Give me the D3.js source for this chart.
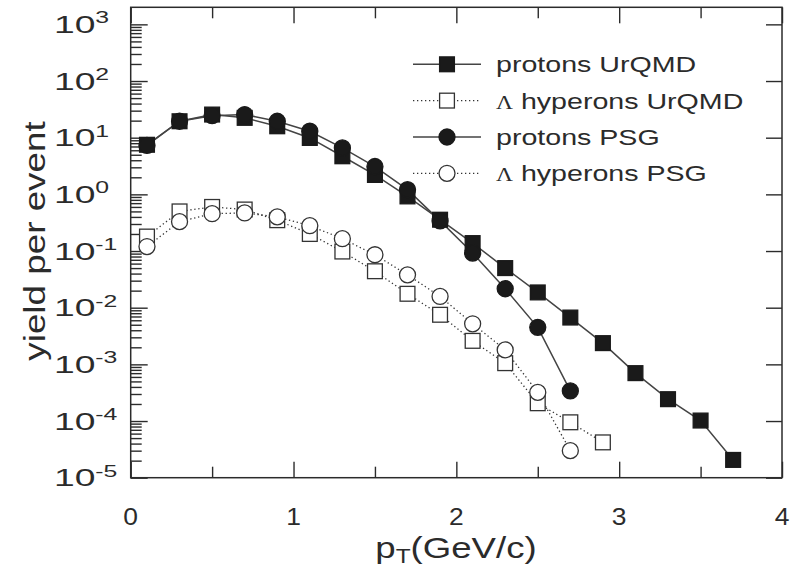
<!DOCTYPE html>
<html><head><meta charset="utf-8">
<script src="https://cdn.jsdelivr.net/npm/d3@7"></script>
<style>body{margin:0;background:#fff}svg{display:block}</style>
</head><body>
<svg id="c" width="804" height="571"></svg>
<script>
// ---- data (pT in GeV/c, yield per event) ----
const ptProtonsUrQMD = [0.1,0.3,0.5,0.7,0.9,1.1,1.3,1.5,1.7,1.9,2.1,2.3,2.5,2.7,2.9,3.1,3.3,3.5,3.7];
const protonsUrQMD   = [7.5,19.5,25.6,22.4,15.9,9.9,4.7,2.2,0.92,0.357,0.138,0.050,0.0186,0.0067,0.00237,0.00070,0.000243,0.000102,0.0000206];
const ptLambdaUrQMD  = [0.1,0.3,0.5,0.7,0.9,1.1,1.3,1.5,1.7,1.9,2.1,2.3,2.5,2.7,2.9];
const lambdaUrQMD    = [0.18,0.50,0.60,0.54,0.35,0.20,0.098,0.044,0.0176,0.0075,0.0026,0.00105,0.000206,0.000095,0.000042];
const ptProtonsPSG   = [0.1,0.3,0.5,0.7,0.9,1.1,1.3,1.5,1.7,1.9,2.1,2.3,2.5,2.7];
const protonsPSG     = [7.3,19.5,24.5,25.6,19.5,13,6.6,3.1,1.21,0.34,0.092,0.0216,0.0045,0.00034];
const ptLambdaPSG    = [0.1,0.3,0.5,0.7,0.9,1.1,1.3,1.5,1.7,1.9,2.1,2.3,2.5,2.7];
const lambdaPSG      = [0.12,0.33,0.456,0.47,0.40,0.28,0.165,0.086,0.038,0.0158,0.0052,0.0018,0.00032,0.000030];

const xMajorTicks = [0,1,2,3,4];
const xMinorTicks = [0.5,1.5,2.5,3.5];
const yDecadeExps = [-5,-4,-3,-2,-1,0,1,2,3];
const legendLabels = [["","protons UrQMD"],["Λ"," hyperons UrQMD"],["","protons PSG"],["Λ"," hyperons PSG"]];
const xTitle = ["p","T","(GeV/c)"];
const yTitle = "yield per event";

// ---- layout ----
const L = 130.7, R = 782, T = 7.3, B = 477.7;
const svg = d3.select("#c");
const x = d3.scaleLinear().domain([0,4]).range([L,R]);
const y = d3.scaleLog().domain([1e-5,2000]).range([B,T]);
const ink = "#2b2b2b";
const FONT = "'Liberation Sans', Arial, Helvetica, sans-serif";

// ---- axes ----
function styleAxis(g){ g.select(".domain").remove(); g.selectAll(".tick line").attr("stroke",ink).attr("stroke-width",1.4); g.selectAll(".tick text").remove(); }
svg.append("g").attr("transform",`translate(0,${B})`).call(d3.axisBottom(x).tickValues(xMajorTicks).tickSize(-16)).call(styleAxis);
svg.append("g").attr("transform",`translate(0,${B})`).call(d3.axisBottom(x).tickValues(xMinorTicks).tickSize(-11)).call(styleAxis);
svg.append("g").attr("transform",`translate(0,${T})`).call(d3.axisTop(x).tickValues(xMajorTicks).tickSize(-16)).call(styleAxis);
svg.append("g").attr("transform",`translate(0,${T})`).call(d3.axisTop(x).tickValues(xMinorTicks).tickSize(-11)).call(styleAxis);
const yMajor = yDecadeExps.map(e => Math.pow(10,e));
const yMinor = [];
yDecadeExps.slice(0,-1).forEach(e => { for (let m=2;m<=9;m++) yMinor.push(m*Math.pow(10,e)); });
svg.append("g").attr("transform",`translate(${L},0)`).call(d3.axisLeft(y).tickValues(yMajor).tickSize(-17)).call(styleAxis);
svg.append("g").attr("transform",`translate(${L},0)`).call(d3.axisLeft(y).tickValues(yMinor).tickSize(-11)).call(styleAxis);
svg.append("g").attr("transform",`translate(${R},0)`).call(d3.axisRight(y).tickValues(yMajor).tickSize(-16)).call(styleAxis);
svg.append("rect").attr("x",L).attr("y",T).attr("width",R-L).attr("height",B-T).attr("fill","none").attr("stroke",ink).attr("stroke-width",1.5);

// x tick labels
xMajorTicks.forEach(v => {
  svg.append("text").attr("transform",`translate(${x(v)},${B+47}) scale(1.1,1)`)
    .attr("text-anchor","middle").attr("font-family",FONT).attr("font-size",24).attr("fill",ink).text(v);
});
// y tick labels
yDecadeExps.forEach(e => {
  const t = svg.append("text").attr("transform",`translate(54,${y(Math.pow(10,e))+8.5}) scale(1.55,1)`)
    .attr("font-family",FONT).attr("font-size",24).attr("fill",ink);
  t.append("tspan").text("10");
  t.append("tspan").attr("dy",-9.5).attr("font-size",16).text(e);
});
// axis titles
const xt = svg.append("text").attr("transform",`translate(456,558) scale(1.22,1)`).attr("text-anchor","middle")
  .attr("font-family",FONT).attr("font-size",30).attr("fill",ink);
xt.append("tspan").text(xTitle[0]);
xt.append("tspan").attr("dy",5).attr("font-size",20).text(xTitle[1]);
xt.append("tspan").attr("dy",-5).text(xTitle[2]);
svg.append("text").attr("transform",`translate(45,241) rotate(-90) scale(1.27,1)`).attr("text-anchor","middle")
  .attr("font-family",FONT).attr("font-size",29).attr("fill",ink).text(yTitle);

// ---- series ----
const line = d3.line().x(d=>x(d[0])).y(d=>y(d[1]));
const zip = (a,b) => a.map((v,i)=>[v,b[i]]);
const series = [
  {pts: zip(ptLambdaUrQMD,lambdaUrQMD), solid:false, shape:"square"},
  {pts: zip(ptLambdaPSG,lambdaPSG), solid:false, shape:"circle"},
  {pts: zip(ptProtonsUrQMD,protonsUrQMD), solid:true, shape:"square"},
  {pts: zip(ptProtonsPSG,protonsPSG), solid:true, shape:"circle"},
];
function lineStyle(sel, solid){
  sel.attr("fill","none").attr("stroke", solid ? "#444" : "#333")
     .attr("stroke-width", solid ? 1.5 : 1.3)
     .attr("stroke-dasharray", solid ? null : "1.3,2.7");
}
function marker(g, cx, cy, shape, solid){
  const fill = solid ? "#1a1a1a" : "#fff";
  const stroke = solid ? "#1a1a1a" : "#333";
  if (shape === "square") g.append("rect").attr("x",cx-7.4).attr("y",cy-7.4).attr("width",14.8).attr("height",14.8)
      .attr("fill",fill).attr("stroke",stroke).attr("stroke-width",1.3);
  else g.append("circle").attr("cx",cx).attr("cy",cy).attr("r",8)
      .attr("fill",fill).attr("stroke",stroke).attr("stroke-width",1.3);
}
series.forEach(s => svg.append("path").datum(s.pts).attr("d",line).call(lineStyle,s.solid));
series.forEach(s => { const g = svg.append("g"); s.pts.forEach(p => marker(g, x(p[0]), y(p[1]), s.shape, s.solid)); });

// ---- legend ----
const legendOrder = [2,0,3,1];
const rowY = [64.3,100.6,137,173.3];
legendOrder.forEach((si,i) => {
  const s = series[si], yy = rowY[i];
  svg.append("line").attr("x1",413).attr("x2",481).attr("y1",yy).attr("y2",yy).call(lineStyle,s.solid);
  marker(svg, 447, yy, s.shape, s.solid);
  const t = svg.append("text").attr("transform",`translate(496,${yy+8}) scale(1.3,1)`)
    .attr("font-family",FONT).attr("font-size",22).attr("fill",ink);
  if (legendLabels[i][0]) t.append("tspan").attr("font-family","'Liberation Serif', serif").attr("font-size",18).text(legendLabels[i][0]);
  t.append("tspan").text(legendLabels[i][1]);
});
</script>
</body></html>
